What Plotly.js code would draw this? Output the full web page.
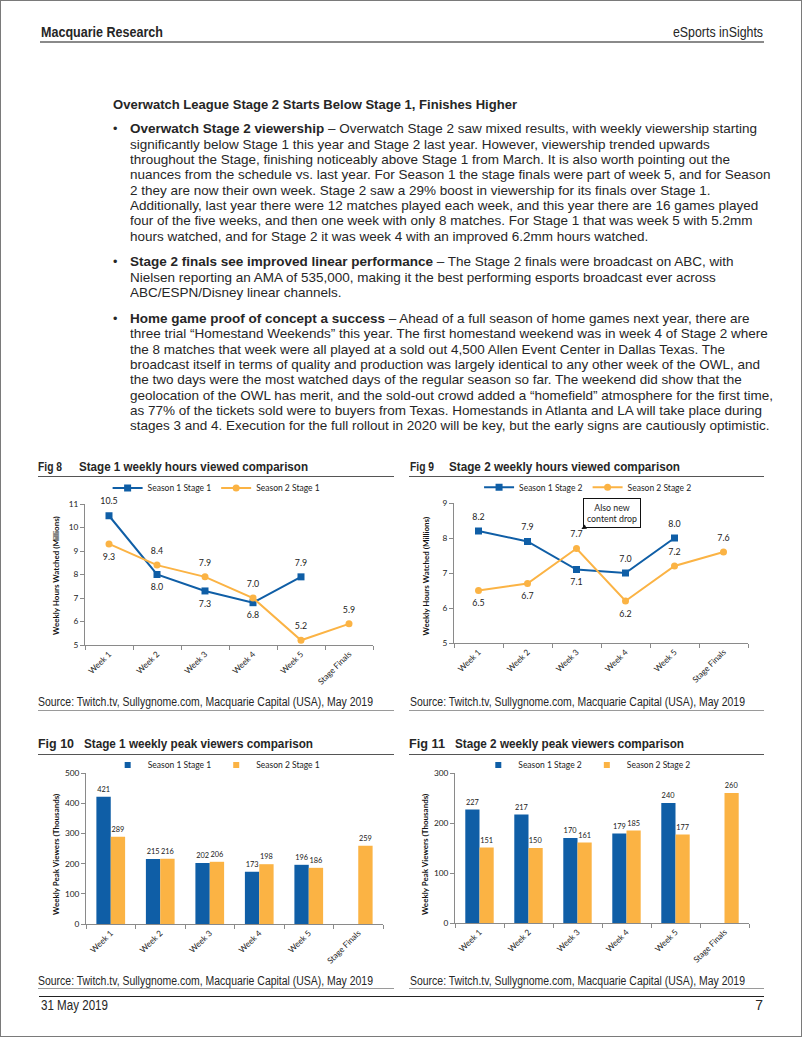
<!DOCTYPE html>
<html><head><meta charset="utf-8">
<script src="https://cdn.plot.ly/plotly-3.0.1.min.js"></script>
<style>
html,body{margin:0;padding:0;background:#fff;}
#page{position:relative;width:802px;height:1037px;overflow:hidden;font-family:'Liberation Sans',Arial,sans-serif;color:#262626;background:#fff;}
#frame{position:absolute;left:0;top:0;width:802px;height:1037px;box-sizing:border-box;border:1px solid #7a7a7a;pointer-events:none;z-index:10;}
.t{position:absolute;white-space:nowrap;line-height:16px;transform-origin:0 50%;}
.rule{position:absolute;}
.chart{position:absolute;}
</style></head><body><div id="page"><div id="frame"></div></div>
<script>
// ---------- data ----------
const categories = ['Week 1','Week 2','Week 3','Week 4','Week 5','Stage Finals'];
const hoursS1Stage1 = [10.5, 8.0, 7.3, 6.8, 7.9, null];
const hoursS2Stage1 = [9.3, 8.4, 7.9, 7.0, 5.2, 5.9];
const hoursS1Stage2 = [8.2, 7.9, 7.1, 7.0, 8.0, null];
const hoursS2Stage2 = [6.5, 6.7, 7.7, 6.2, 7.2, 7.6];
const peakS1Stage1 = [421, 215, 202, 173, 196, null];
const peakS2Stage1 = [289, 216, 206, 198, 186, 259];
const peakS1Stage2 = [227, 217, 170, 179, 240, null];
const peakS2Stage2 = [151, 150, 161, 185, 177, 260];

const sectionTitle = 'Overwatch League Stage 2 Starts Below Stage 1, Finishes Higher';
const para1 = [
 '<b>Overwatch Stage 2 viewership</b> – Overwatch Stage 2 saw mixed results, with weekly viewership starting',
 'significantly below Stage 1 this year and Stage 2 last year. However, viewership trended upwards',
 'throughout the Stage, finishing noticeably above Stage 1 from March. It is also worth pointing out the',
 'nuances from the schedule vs. last year. For Season 1 the stage finals were part of week 5, and for Season',
 '2 they are now their own week. Stage 2 saw a 29% boost in viewership for its finals over Stage 1.',
 'Additionally, last year there were 12 matches played each week, and this year there are 16 games played',
 'four of the five weeks, and then one week with only 8 matches. For Stage 1 that was week 5 with 5.2mm',
 'hours watched, and for Stage 2 it was week 4 with an improved 6.2mm hours watched.'
];
const para2 = [
 '<b>Stage 2 finals see improved linear performance</b> – The Stage 2 finals were broadcast on ABC, with',
 'Nielsen reporting an AMA of 535,000, making it the best performing esports broadcast ever across',
 'ABC/ESPN/Disney linear channels.'
];
const para3 = [
 '<b>Home game proof of concept a success</b> – Ahead of a full season of home games next year, there are',
 'three trial “Homestand Weekends” this year. The first homestand weekend was in week 4 of Stage 2 where',
 'the 8 matches that week were all played at a sold out 4,500 Allen Event Center in Dallas Texas. The',
 'broadcast itself in terms of quality and production was largely identical to any other week of the OWL, and',
 'the two days were the most watched days of the regular season so far. The weekend did show that the',
 'geolocation of the OWL has merit, and the sold-out crowd added a “homefield” atmosphere for the first time,',
 'as 77% of the tickets sold were to buyers from Texas. Homestands in Atlanta and LA will take place during',
 'stages 3 and 4. Execution for the full rollout in 2020 will be key, but the early signs are cautiously optimistic.'
];
const figTitles = ['Stage 1 weekly hours viewed comparison','Stage 2 weekly hours viewed comparison',
                   'Stage 1 weekly peak viewers comparison','Stage 2 weekly peak viewers comparison'];
const sourceText = 'Source: Twitch.tv, Sullygnome.com, Macquarie Capital (USA), May 2019';

const BLUE = '#0f5ea6', ORANGE = '#fbb344';

// ---------- page text ----------
const page = document.getElementById('page');
function addText(html, x, yc, size, bold, targetW, align){
  const d = document.createElement('div');
  d.className = 't';
  d.innerHTML = html;
  d.style.fontSize = size + 'px';
  d.style.fontWeight = bold ? 'bold' : 'normal';
  d.style.top = (yc - 8) + 'px';
  page.appendChild(d);
  const w = d.getBoundingClientRect().width;
  let s = 1;
  if (targetW) { s = targetW / w; d.style.transform = 'scaleX(' + s + ')'; }
  const finalW = w * s;
  d.style.left = (align === 'right' ? x - finalW : x) + 'px';
  return d;
}
function addRule(x1, x2, y, th, color){
  const r = document.createElement('div');
  r.className = 'rule';
  r.style.left = x1 + 'px'; r.style.width = (x2 - x1) + 'px';
  r.style.top = (y - th/2) + 'px'; r.style.height = th + 'px';
  r.style.background = color;
  page.appendChild(r);
}

addText('Macquarie Research', 41, 32, 14.5, true, 122);
addText('eSports inSights', 763, 32, 14.5, false, 90, 'right');
addRule(40, 764, 41.5, 2, '#8a8a8a');

addText(sectionTitle, 113, 104.5, 13.3, true, 404);

// body lines
const bodySize = 12.6;
const TEXT_X = 129.5;
const probe = addText(para1[3], TEXT_X, -50, bodySize, false);
const bodyScale = 640.5 / probe.getBoundingClientRect().width;
probe.remove();
const LINE = 15.35, GAP = 10.35;
let y = 129.3;
[para1, para2, para3].forEach((p) => {
  addText('•', 113, y, 12.6, false);
  p.forEach((line) => {
    const d = addText(line, TEXT_X, y, bodySize, false);
    d.style.transform = 'scaleX(' + bodyScale + ')';
    y += LINE;
  });
  y += GAP;
});

// figure headers / sources
addText('Fig 8', 38, 466.5, 12, true, 24);
addText(figTitles[0], 79, 466.5, 12, true, 229);
addText('Fig 9', 410, 466.5, 12, true, 24);
addText(figTitles[1], 449, 466.5, 12, true, 231);
addRule(38, 394, 476, 1, '#555');
addRule(409, 764, 476, 1, '#555');
addText(sourceText, 38, 702, 12, false, 335);
addText(sourceText, 410, 702, 12, false, 335);
addRule(38, 394, 710, 1, '#9a9a9a');
addRule(409, 764, 710, 1, '#9a9a9a');

addText('Fig 10', 38, 744, 12, true, 36);
addText(figTitles[2], 84, 744, 12, true, 229);
addText('Fig 11', 409, 744, 12, true, 36);
addText(figTitles[3], 455, 744, 12, true, 229);
addRule(38, 394, 754, 1, '#555');
addRule(409, 764, 754, 1, '#555');
addText(sourceText, 38, 981, 12, false, 335);
addText(sourceText, 410, 981, 12, false, 335);
addRule(38, 394, 988.5, 1, '#9a9a9a');
addRule(409, 764, 988.5, 1, '#9a9a9a');

addRule(39, 764, 996.5, 1.6, '#222');
addText('31 May 2019', 41, 1005, 14, false, 67);
addText('7', 763, 1005, 14, false, null, 'right');

// ---------- charts ----------
const FONT = 'Lato, "Open Sans", sans-serif';
function makeDiv(left, top, w, h){
  const d = document.createElement('div');
  d.className = 'chart';
  d.style.left = left + 'px'; d.style.top = top + 'px';
  d.style.width = w + 'px'; d.style.height = h + 'px';
  page.appendChild(d);
  return d;
}
function xAxis(){
  return {type:'category', categoryarray:categories, range:[-0.5,5.5], showline:true, linecolor:'#8a8a8a',
    linewidth:1, ticks:'outside', tickson:'boundaries', ticklen:4, tickcolor:'#8a8a8a', tickangle:-45,
    showgrid:false, zeroline:false, tickfont:{size:8.3, color:'#222', family:FONT}, fixedrange:true};
}
function yAxis(range, dtick){
  return {range:range, dtick:dtick, showline:true, linecolor:'#8a8a8a', linewidth:1, ticks:'outside',
    ticklen:4, tickcolor:'#8a8a8a', showgrid:false, zeroline:false, tickfont:{size:8.3, color:'#222', family:FONT},
    fixedrange:true};
}
function yTitle(text, xp, yp){
  return {text:'<b>'+text+'</b>', xref:'paper', yref:'paper', x:xp, y:yp, xanchor:'center', yanchor:'middle',
    textangle:-90, showarrow:false, font:{size:8, color:'#111', family:FONT}};
}
function baseLayout(margin, legendX, legendY){
  return {margin:margin, paper_bgcolor:'rgba(0,0,0,0)', plot_bgcolor:'rgba(0,0,0,0)',
    font:{family:FONT, size:8, color:'#222'}, showlegend:true,
    legend:{orientation:'h', x:legendX, y:legendY, xanchor:'center', yanchor:'middle',
      font:{size:8.5, color:'#222', family:FONT}, bgcolor:'rgba(0,0,0,0)', itemwidth:30, tracegroupgap:0}};
}
function fmt1(v){ return v == null ? '' : v.toFixed(1); }
function lineTraces(vals, name, color, symbol, positions){
  return [
    {x:categories, y:vals, name:name, type:'scatter', mode:'lines+markers',
     line:{color:color, width:2}, marker:{symbol:symbol, size:7, color:color}, hoverinfo:'skip'},
    {x:categories, y:vals, type:'scatter', mode:'markers+text', text:vals.map(fmt1), textposition:positions,
     marker:{size:13, color:'rgba(0,0,0,0)'},
     textfont:{size:8.8, color:'#222', family:FONT}, showlegend:false, cliponaxis:false, hoverinfo:'skip'}
  ];
}
function barTrace(vals, color){
  return {x:categories, y:vals, type:'bar', marker:{color:color}, showlegend:false,
    text:vals.map(v => v == null ? '' : String(v)), textposition:'outside', cliponaxis:false,
    constraintext:'none', textangle:0, textfont:{size:7.4, color:'#222', family:FONT}, hoverinfo:'skip'};
}
function legendKey(name, color){
  return {x:[null], y:[null], type:'scatter', mode:'markers', name:name,
    marker:{symbol:'square', size:6, color:color}, hoverinfo:'skip'};
}
const cfg = {staticPlot:true, displayModeBar:false};

// Fig 8
{
  const d = makeDiv(30, 448, 370, 252);
  const pb = ['top center','bottom center','bottom center','bottom center','top center','top center'];
  const po = ['bottom center','top center','top center','top center','top center','top center'];
  const data = [...lineTraces(hoursS1Stage1, 'Season 1 Stage 1', BLUE, 'square', pb),
                ...lineTraces(hoursS2Stage1, 'Season 2 Stage 1', ORANGE, 'circle', po)];
  const lay = baseLayout({l:55, r:27, t:56, b:55}, 0.457, 1.113);
  lay.xaxis = xAxis(); lay.yaxis = yAxis([5,11], 1);
  lay.annotations = [yTitle('Weekly Hours Watched (Millions)', -(85-56)/288, 0.49)];
  Plotly.newPlot(d, data, lay, cfg);
}
// Fig 9
{
  const d = makeDiv(405, 448, 370, 252);
  const pb = ['top center','top center','bottom center','top center','top center','top center'];
  const po = ['bottom center','bottom center','top center','bottom center','top center','top center'];
  const data = [...lineTraces(hoursS1Stage2, 'Season 1 Stage 2', BLUE, 'square', pb),
                ...lineTraces(hoursS2Stage2, 'Season 2 Stage 2', ORANGE, 'circle', po)];
  const lay = baseLayout({l:49, r:27, t:55, b:57}, 0.456, 1.112);
  lay.xaxis = xAxis(); lay.yaxis = yAxis([5,9], 1);
  lay.annotations = [
    yTitle('Weekly Hours Watched (Millions)', -(454-425.7)/294, 0.48),
    {text:'Also new<br>content drop', xref:'x', yref:'y', x:2.1, y:8.26, ax:31, ay:-16,
     showarrow:true, arrowhead:2, arrowsize:1, arrowwidth:1, arrowcolor:'#111',
     bordercolor:'#111', borderwidth:1, borderpad:3, bgcolor:'#fff',
     font:{size:8.8, color:'#222', family:FONT}, align:'center'}
  ];
  Plotly.newPlot(d, data, lay, cfg);
}
// Fig 10
{
  const d = makeDiv(30, 730, 370, 248);
  const data = [barTrace(peakS1Stage1, BLUE), barTrace(peakS2Stage1, ORANGE),
                legendKey('Season 1 Stage 1', BLUE), legendKey('Season 2 Stage 1', ORANGE)];
  const lay = baseLayout({l:56, r:17, t:43, b:54}, 0.44, 1.053);
  lay.barmode = 'group'; lay.bargap = 0.42; lay.bargroupgap = 0;
  lay.xaxis = xAxis(); lay.yaxis = yAxis([0,500], 100);
  lay.annotations = [yTitle('Weekly Peak Viewers (Thousands)', -(86-56)/297, 0.457)];
  Plotly.newPlot(d, data, lay, cfg);
}
// Fig 11
{
  const d = makeDiv(405, 730, 370, 248);
  const data = [barTrace(peakS1Stage2, BLUE), barTrace(peakS2Stage2, ORANGE),
                legendKey('Season 1 Stage 2', BLUE), legendKey('Season 2 Stage 2', ORANGE)];
  const lay = baseLayout({l:50, r:26, t:43, b:55}, 0.45, 1.053);
  lay.barmode = 'group'; lay.bargap = 0.42; lay.bargroupgap = 0;
  lay.xaxis = xAxis(); lay.yaxis = yAxis([0,300], 100);
  lay.annotations = [yTitle('Weekly Peak Viewers (Thousands)', -(455-425)/294, 0.453)];
  Plotly.newPlot(d, data, lay, cfg);
}
</script></body></html>
